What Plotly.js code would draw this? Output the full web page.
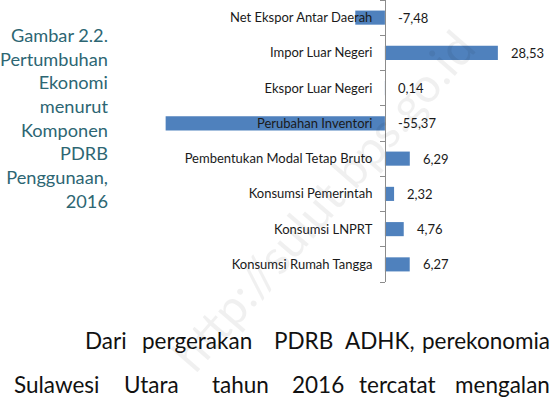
<!DOCTYPE html>
<html>
<head>
<meta charset="utf-8">
<script src="https://cdn.plot.ly/plotly-3.0.1.min.js"></script>
<style>html,body{margin:0;padding:0;background:#fff;}#chart{width:552px;height:402px;}</style>
</head>
<body>
<div id="chart"></div>
<script>
// Data (bottom to top order as drawn)
const categories = [
  "Konsumsi Rumah Tangga",
  "Konsumsi LNPRT",
  "Konsumsi Pemerintah",
  "Pembentukan Modal Tetap Bruto",
  "Perubahan Inventori",
  "Ekspor Luar Negeri",
  "Impor Luar Negeri",
  "Net Ekspor Antar Daerah"
];
const growth = [6.27, 4.76, 2.32, 6.29, -55.37, 0.14, 28.53, -7.48];
const captionLines = ["Gambar 2.2.", "Pertumbuhan", "Ekonomi", "menurut", "Komponen", "PDRB", "Penggunaan,", "2016"];
const bodyLine1 = ["Dari", "pergerakan", "PDRB", "ADHK,", "perekonomia"];
const bodyLine2 = ["Sulawesi", "Utara", "tahun", "2016", "tercatat", "mengalan"];

const W = 552, H = 402, plotH = 282;
const fmt = v => v.toFixed(2).replace('.', ',');

const barTrace = {
  type: 'bar',
  orientation: 'h',
  x: growth,
  y: categories,
  marker: {color: '#4F81BD'},
  hoverinfo: 'skip'
};

const annotations = [];
// watermark (drawn first, behind other text)
annotations.push({
  xref: 'paper', yref: 'paper', x: 322 / W, y: (plotH - 200) / plotH,
  xanchor: 'center', yanchor: 'middle', showarrow: false,
  text: 'http://sulut.bps.go.id', textangle: -49,
  font: {family: 'Lato, sans-serif', size: 48, color: 'rgba(0,0,0,0.06)'}
});
// value labels
growth.forEach((v, i) => {
  annotations.push({
    x: Math.max(v, 0), y: categories[i], xref: 'x', yref: 'y',
    text: fmt(v), showarrow: false, xanchor: 'left', xshift: 11,
    font: {family: 'Lato, sans-serif', size: 13, color: '#1a1a1a'}
  });
});
// caption
annotations.push({
  xref: 'paper', yref: 'paper', x: 110 / W, y: (plotH - 22) / plotH,
  xanchor: 'right', yanchor: 'top', align: 'right', showarrow: false,
  text: captionLines.join('<br>'),
  font: {family: 'Lato, sans-serif', size: 18.2, color: '#2D6673'}
});
// body text (justified by word positions)
const l1x = [83, 140, 272, 343, null];
const l2x = [12, 122, 210, 290, 357, null];
const bodyFont = {family: 'Lato, sans-serif', size: 22.5, color: '#111'};
function addLine(words, xs, py) {
  words.forEach((w, i) => {
    const last = xs[i] === null;
    annotations.push({
      xref: 'paper', yref: 'paper', x: last ? 1 : xs[i] / W, y: (plotH - py) / plotH,
      xanchor: last ? 'right' : 'left', yanchor: 'middle', showarrow: false, text: w,
      font: bodyFont
    });
  });
}
addLine(bodyLine1, l1x, 340);
addLine(bodyLine2, l2x, 384);

const layout = {
  width: W, height: H,
  margin: {l: 0, r: 0, t: 0, b: H - plotH, pad: 0},
  paper_bgcolor: '#fff', plot_bgcolor: 'rgba(0,0,0,0)',
  showlegend: false,
  bargap: 0.6,
  xaxis: {range: [-97.2, 42.2], showgrid: false, zeroline: false, showticklabels: false, showline: false, fixedrange: true},
  yaxis: {
    type: 'category', categoryorder: 'array', categoryarray: categories,
    range: [-0.5, 7.5], anchor: 'free', position: 385 / W,
    showline: true, linecolor: '#8c8c8c', linewidth: 1,
    ticks: 'outside', tickson: 'boundaries', ticklen: 5, tickcolor: '#8c8c8c',
    showgrid: false, zeroline: false,
    tickfont: {family: 'Lato, sans-serif', size: 13, color: '#1a1a1a'},
    ticklabelstandoff: 10
  },
  annotations: annotations
};

Plotly.newPlot('chart', [barTrace], layout, {displayModeBar: false, staticPlot: true});
</script>
</body>
</html>
